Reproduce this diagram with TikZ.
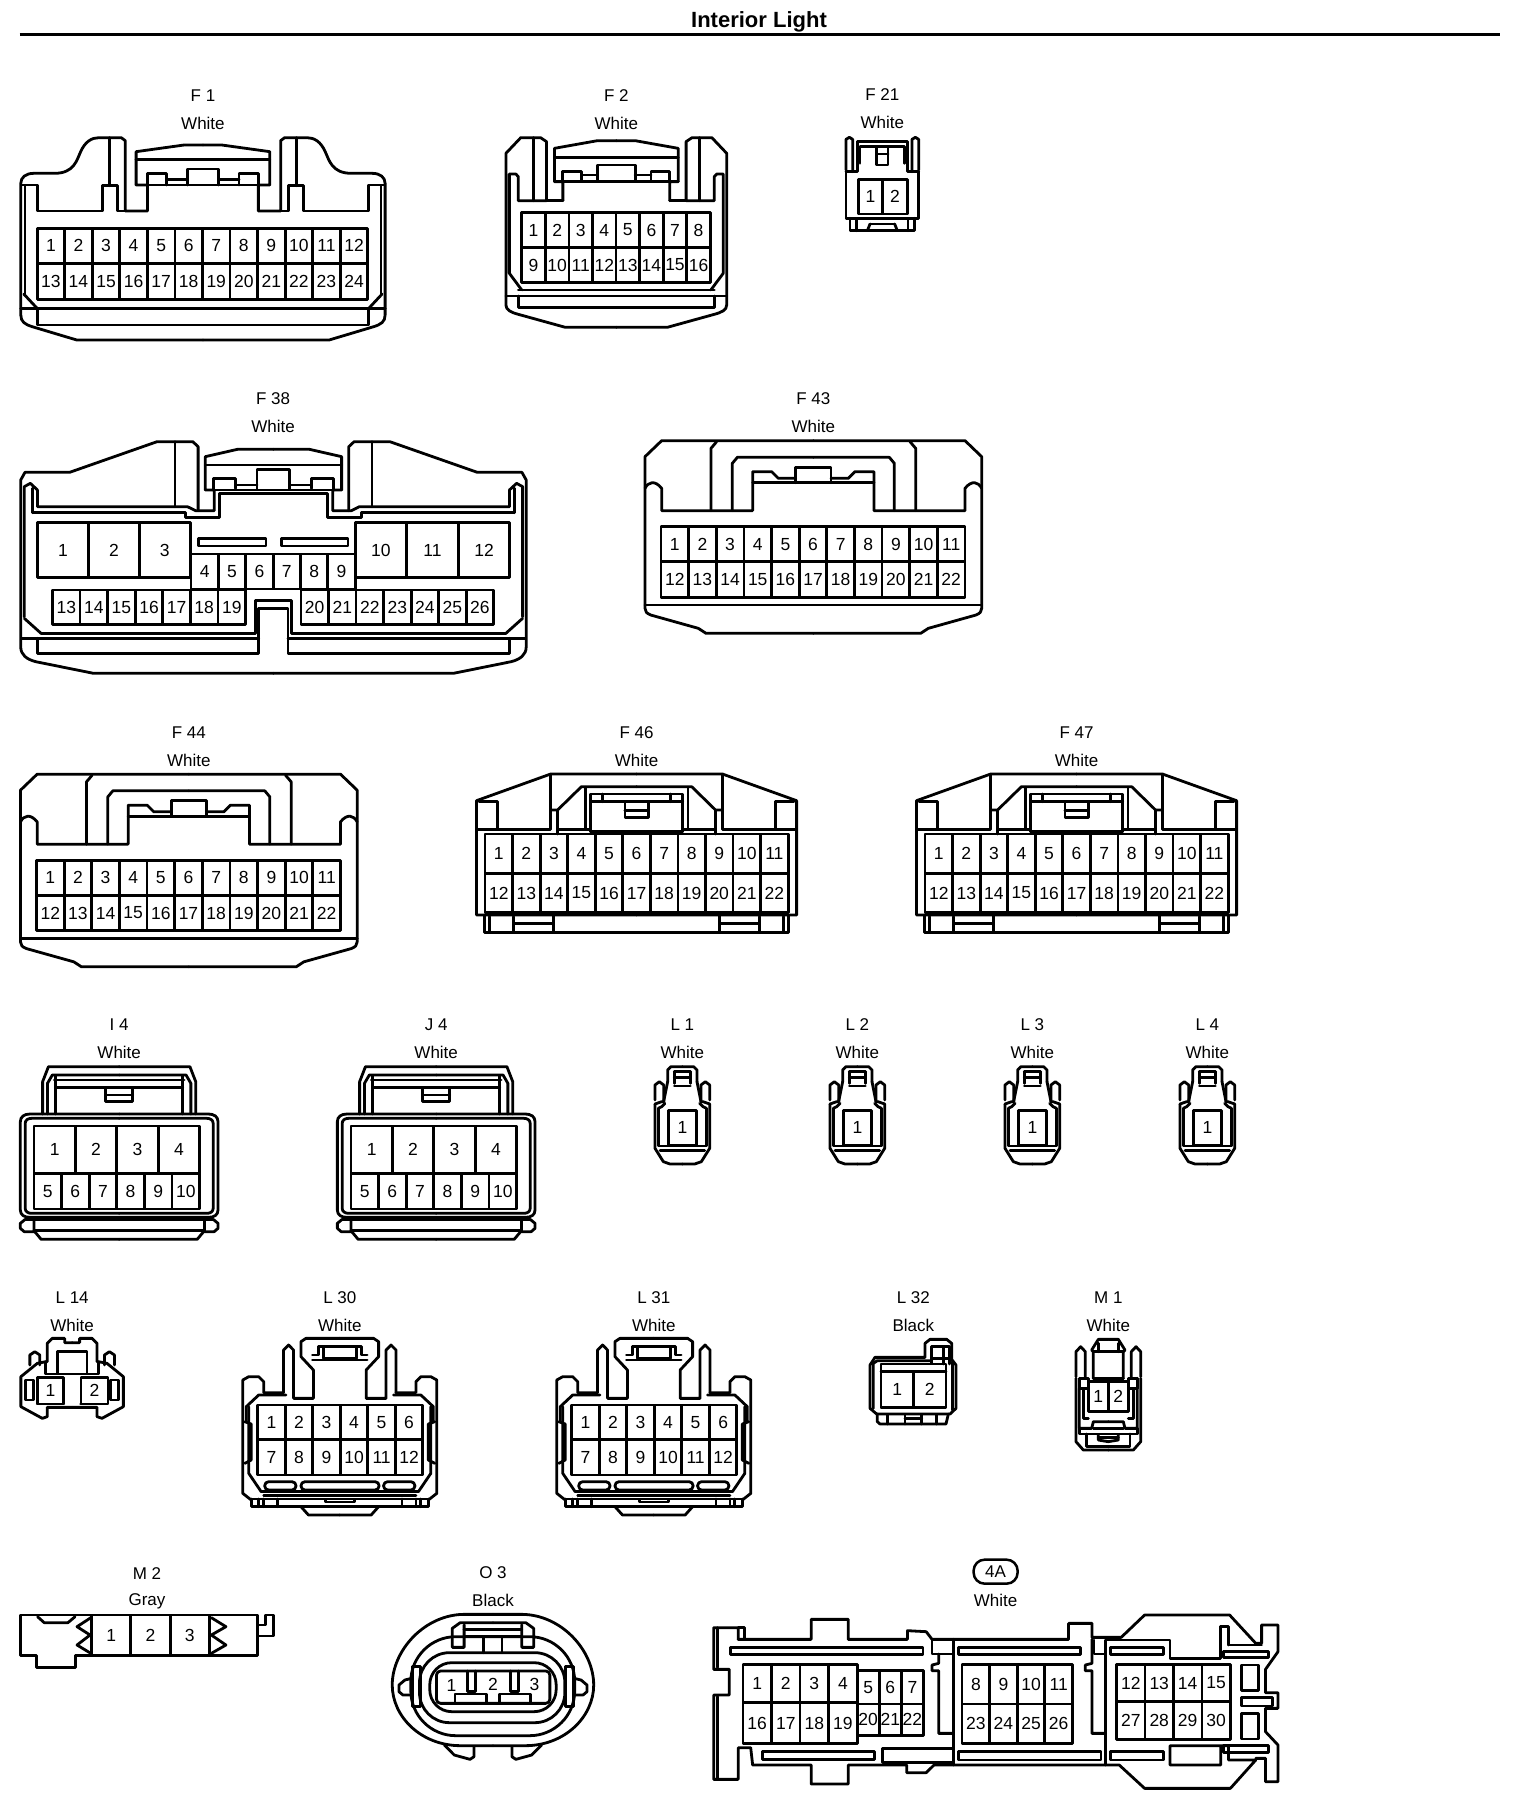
\documentclass[tikz,border=0pt]{standalone}
\usepackage{fontspec}
\setmainfont{Liberation Sans}
\tikzset{
  pintext/.style={font=\fontsize{17.5}{18}\selectfont,inner sep=0pt},
  lbl/.style={font=\fontsize{17}{17}\selectfont,inner sep=0pt},
  fine/.style={line width=1.7pt},
  F1view/.style={xscale=.495,yscale=1/3},
  fullview/.style={xscale=1/3,yscale=1/3}
}
\newcommand{\pinrow}[7]{%
  \pgfmathsetmacro\cellw{(#3-#2)/#4}
  \foreach \i in {1,...,#4}{
    \pgfmathsetmacro\xa{#2+(\i-1)*\cellw}
    \pgfmathsetmacro\xb{#2+\i*\cellw}
    \pgfmathtruncatemacro\pn{#7+\i-1}
    \draw (\xa,#5) rectangle (\xb,#6);
    \node[pintext] (#1p\pn) at ({(\xa+\xb)/2},{(#5+#6)/2}) {\pn};
  }}
\newcommand{\twin}[2]{#2\begin{scope}[xshift=#1,xscale=-1]#2\end{scope}}
\newcommand{\labels}[5]{%
  \node[lbl] (#1name) at (#2,#3) {#4};
  \node[lbl] (#1col) at (#2,#3+83) {#5};}
\newcommand{\connFff}[2]{%
  \twin{1100}{
    \draw (550,640)--(228,640)--(205,625)--(62,585) .. controls (50,580) and (45,575) .. (45,565)--(45,110)--(95,62)--(550,62);
    \draw (45,205) .. controls (55,185) and (75,180) .. (95,205)--(95,272)--(368,272)--(368,155)--(425,155)--(445,175)--(497,175);
    \draw (243,272)--(243,85)--(260,65);
    \draw (307,272)--(307,130)--(322,112)--(550,112);
    \draw (368,188)--(550,188);
    \draw (497,188)--(497,142)--(550,142);
    \draw (45,555)--(550,555);
  }
  \pinrow{#1}{93}{1005}{11}{320}{425}{1}
  \pinrow{#1}{93}{1005}{11}{425}{532}{12}
  \labels{#1}{550}{-63}{#2}{White}}
\newcommand{\connFfs}[2]{%
  \twin{704}{
    \draw (352,555)--(50,555)--(50,212)--(190,132)--(352,132);
    \draw (52,298)--(190,298)--(190,136);
    \draw (190,240)--(203,240)--(248,170)--(352,170);
    \draw (203,240)--(203,312);
    \draw (203,298)--(265,298);
    \draw (265,305)--(265,192)--(352,192);
    \draw (255,172)--(255,295);
    \draw (265,215)--(352,215);
    \draw (288,192)--(288,215);
    \draw (330,220)--(330,262)--(352,262);
    \draw (330,241)--(352,241);
    \draw (265,305)--(352,305);
    \draw (55,215)--(90,215)--(90,298);
    \draw (65,555)--(65,607)--(352,607);
    \draw (75,560)--(75,607);
    \draw (120,560)--(120,607);
    \draw (120,580)--(195,580);
    \draw (195,555)--(195,607);
  }
  \pinrow{#1}{66}{638}{11}{312}{430}{1}
  \pinrow{#1}{66}{638}{11}{430}{548}{12}
  \labels{#1}{352}{7}{#2}{White}}
\newcommand{\connI}[2]{%
  \twin{492}{
    \draw (88,282)--(88,185)--(100,140)--(246,140);
    \draw (98,282)--(98,190)--(108,165)--(246,165);
    \draw (115,282)--(115,168);
    \draw (112,180)--(246,180);
    \draw (115,203)--(246,203);
    \draw (218,205)--(218,245)--(246,245);
    \draw (218,225)--(246,225);
    \draw (246,282)--(62,282) .. controls (50,282) and (42,290) .. (42,305)--(42,570) .. controls (42,585) and (50,592) .. (62,592)--(246,592);
    \draw (246,295)--(65,295) .. controls (58,295) and (52,300) .. (52,310)--(52,565) .. controls (52,575) and (58,580) .. (65,580)--(246,580);
    \draw (52,598)--(42,610)--(42,625)--(50,635)--(70,635);
    \draw (52,598)--(246,598);
    \draw (70,600)--(70,632)--(85,658)--(246,658);
    \draw (70,632)--(246,632);
  }
  \pinrow{#1}{70}{412}{4}{318}{460}{1}
  \pinrow{#1}{70}{412}{6}{460}{567}{5}
  \labels{#1}{246}{14}{#2}{White}}
\newcommand{\connL}[2]{%
  \twin{134}{
    \draw (23,5)--(23,-30)--(33,-40)--(67,-40);
    \draw (43,-25)--(67,-25);
    \draw (43,-25)--(43,10);
    \draw (43,-8)--(67,-8);
    \draw (43,18)--(67,18);
    \draw (-15,60)--(-15,15)--(-2,5)--(11,15)--(11,65);
    \draw (11,65)--(23,5);
    \draw (-15,72)--(-15,205)--(10,245)--(30,252)--(67,252);
    \draw (-15,72)--(5,65)--(11,65);
    \draw (-5,85)--(-5,198)--(67,198);
    \draw (-5,85)--(5,80)--(15,70);
    \draw (0,212)--(67,212);
  }
  \pinrow{#1}{25}{110}{1}{92}{195}{1}
  \labels{#1}{67}{-166}{#2}{White}}
\newcommand{\connLt}[2]{%
  \twin{1366}{
    \draw (683,115)--(615,115)--(605,125)--(605,170)--(630,210)--(630,295)--(590,295)--(590,150)--(580,135)--(570,150)--(570,278);
    \draw (628,180)--(683,180);
    \draw (628,165)--(640,165)--(640,140)--(683,140);
    \draw (650,145)--(650,175)--(683,175);
    \draw (570,278)--(530,278)--(530,245)--(520,230)--(500,230)--(488,240)--(488,580)--(505,600);
    \draw (575,285)--(520,285)--(495,320)--(495,365);
    \draw (500,320)--(500,520)--(525,575);
    \draw (492,365)--(505,372)--(505,480)--(492,490);
    \draw[rounded corners=4pt] (532,545) rectangle (595,570);
    \draw (525,575)--(683,575);
    \draw (530,587)--(683,587);
    \draw (505,597)--(683,597);
    \draw (505,597)--(505,620)--(683,620);
    \draw (605,620)--(620,645)--(683,645);
    \draw (520,597)--(520,620);
    \draw (530,597)--(530,620);
    \draw (558,597)--(558,620);
  }
  \draw[rounded corners=4pt] (605,545) rectangle (762,570);
  \draw (655,597) rectangle (712,606);
  \pinrow{#1}{518}{850}{6}{315}{418}{1}
  \pinrow{#1}{518}{850}{6}{418}{525}{7}
  \labels{#1}{683}{-8}{#2}{White}}
\begin{document}
\begin{tikzpicture}[x=1pt,y=-1pt,line width=2.8pt,line join=round,line cap=round]
  \useasboundingbox (0,0) rectangle (1536,1804);
  \node[font=\bfseries\fontsize{22}{22}\selectfont,inner sep=0pt] (title) at (759,21.5) {Interior Light};
  \coordinate (ruleA) at (19.5,34.5);
  \coordinate (ruleB) at (1500,34.5);
  \draw[line width=3.5pt,line cap=butt] (ruleA) -- (ruleB);

  \begin{scope}[shift={(0,70)},F1view]
    \twin{820}{
      \draw (410,810)--(155,810)--(65,770) .. controls (50,763) and (42,755) .. (42,735)--(42,340) .. controls (42,322) and (52,310) .. (68,310)--(110,310) .. controls (150,310) and (155,270) .. (163,245) .. controls (172,215) and (185,203) .. (200,203)--(245,203)--(253,212)--(253,423)--(298,423)--(298,345)--(275,345)--(275,245)--(372,225)--(410,225);
      \draw (275,268)--(410,268);
      \draw (44,345)--(75,345)--(75,423)--(207,423)--(207,347)--(237,347)--(237,423)--(253,423);
      \draw (221,203)--(221,347);
      \draw (298,345)--(298,310)--(337,310)--(337,345);
      \draw (378,345)--(378,297)--(410,297);
      \draw (337,328)--(378,328);
      \draw (275,345)--(410,345);
      \draw (42,715)--(410,715);
      \draw (75,715)--(75,765)--(410,765);
      \draw (48,672)--(75,715);
      \draw[fine] (50,345)--(50,675);
    }
    \pinrow{f1}{75}{743}{12}{475}{580}{1}
    \pinrow{f1}{75}{743}{12}{580}{688}{13}
    \labels{f1}{410}{77}{F 1}{White}
  \end{scope}
  \begin{scope}[shift={(3.5,70)},F1view]
    \twin{2476}{
      \draw (1238,772)--(1135,772)--(1040,733) .. controls (1025,727) and (1015,720) .. (1015,705)--(1015,250)--(1045,203)--(1085,203)--(1097,215)--(1097,392)--(1040,392)--(1040,320)--(1035,312)--(1022,312)--(1022,610)--(1047,660);
      \draw (1130,392)--(1097,392);
      \draw (1130,392)--(1130,335)--(1113,335)--(1113,235)--(1200,212)--(1238,212);
      \draw (1070,203)--(1070,392);
      \draw (1113,262)--(1238,262);
      \draw (1130,335)--(1130,305)--(1168,305)--(1168,332);
      \draw (1200,332)--(1200,285)--(1238,285);
      \draw (1168,315)--(1200,315);
      \draw (1113,335)--(1238,335);
      \draw (1040,660)--(1238,660);
      \draw (1015,678)--(1238,678);
      \draw (1040,678)--(1040,712)--(1238,712);
    }
    \pinrow{f2}{1047}{1428}{8}{428}{532}{1}
    \pinrow{f2}{1047}{1428}{8}{532}{638}{9}
    \labels{f2}{1238}{77}{F 2}{White}
  \end{scope}

  \begin{scope}[shift={(830,120)},fullview]
    \twin{314}{
      \draw (48,150)--(48,58)--(58,52)--(68,58)--(68,155);
      \draw (48,155)--(82,155)--(82,65)--(157,65);
      \draw (90,130)--(90,80)--(157,80);
      \draw (140,80)--(140,135)--(157,135);
      \draw (140,102)--(157,102);
      \draw (48,155)--(48,295)--(157,295);
      \draw (60,295)--(60,332)--(157,332);
      \draw (80,300)--(80,332);
      \draw (120,312)--(157,312);
      \draw (120,312)--(112,332);
    }
    \pinrow{f21}{85}{232}{2}{178}{282}{1}
    \labels{f21}{157}{-76}{F 21}{White}
  \end{scope}

  \begin{scope}[shift={(0,390)},xscale=.357,yscale=1/3]
    \twin{1532}{
      \draw (766,850)--(262,850)--(100,815) .. controls (75,808) and (58,795) .. (58,770)--(58,270)--(70,247)--(195,247)--(440,155)--(540,155)--(555,170)--(555,362);
      \draw (105,300)--(105,350)--(525,350)--(548,362)--(600,362)--(600,300)--(575,300)--(575,200)--(665,178)--(766,178);
      \draw (575,225)--(766,225);
      \draw (575,300)--(766,300);
      \draw (598,298)--(598,265)--(660,265)--(660,295);
      \draw (720,298)--(720,238)--(766,238);
      \draw (660,285)--(720,285);
      \draw (92,368)--(520,368)--(520,382)--(615,382)--(615,310)--(766,310);
      \draw (68,680)--(68,290)--(85,280)--(105,300);
      \draw (90,295)--(90,368);
      \draw (490,155)--(490,350);
      \draw (68,685)--(115,730);
      \draw (115,730)--(715,730)--(715,632)--(766,632);
      \draw (60,745)--(725,745);
      \draw (105,745)--(105,790)--(725,790)--(725,655)--(766,655);
    }
    \pinrow{f38}{105}{533}{3}{398}{562}{1}
    \pinrow{f38}{535}{995}{6}{492}{597}{4}
    \pinrow{f38}{995}{1428}{3}{398}{562}{10}
    \pinrow{f38}{147}{688}{7}{600}{703}{13}
    \pinrow{f38}{843}{1383}{7}{600}{703}{20}
    \draw (555,445) rectangle (745,468);
    \draw (788,445) rectangle (975,468);
    \labels{f38}{765}{25}{F 38}{White}
  \end{scope}

  \begin{scope}[shift={(630,420)},fullview]
    \connFff{f43}{F 43}
  \end{scope}
  \begin{scope}[shift={(5.5,753.5)},fullview]
    \connFff{f44}{F 44}
  \end{scope}

  \begin{scope}[shift={(450,730)},xscale=.53,yscale=1/3]
    \connFfs{f46}{F 46}
  \end{scope}
  \begin{scope}[shift={(890,730)},xscale=.53,yscale=1/3]
    \connFfs{f47}{F 47}
  \end{scope}

  \begin{scope}[shift={(0,1020)},xscale=.4845,yscale=1/3]
    \connI{i4}{I 4}
  \end{scope}
  \begin{scope}[shift={(317,1020)},xscale=.4845,yscale=1/3]
    \connI{j4}{J 4}
  \end{scope}

  \begin{scope}[shift={(660,1080)},fullview]
    \connL{la}{L 1}
  \end{scope}
  \begin{scope}[shift={(835,1080)},fullview]
    \connL{lb}{L 2}
  \end{scope}
  \begin{scope}[shift={(1010,1080)},fullview]
    \connL{lc}{L 3}
  \end{scope}
  \begin{scope}[shift={(1185,1080)},fullview]
    \connL{ld}{L 4}
  \end{scope}

  \begin{scope}[shift={(0,1300)},xscale=.4975,yscale=1/3]
    \twin{290}{
      \draw (95,185)--(95,130)--(105,115)--(130,115)--(130,128)--(145,128);
      \draw (115,218)--(115,155)--(145,155);
      \draw (92,185)--(92,222)--(145,222);
      \draw (60,195)--(60,165)--(70,155)--(80,165)--(80,195);
      \draw (92,185)--(75,190)--(42,230)--(42,320)--(85,355)--(95,350)--(95,322)--(145,322);
      \draw (52,240)--(68,240)--(68,300)--(52,300)--cycle;
      \draw (75,312)--(128,312);
    }
    \pinrow{lfourteen}{75}{128}{1}{232}{312}{1}
    \pinrow{lfourteen}{163}{217}{1}{232}{312}{2}
    \labels{lfourteen}{145}{-8}{L 14}{White}
  \end{scope}

  \begin{scope}[shift={(0,1300)},xscale=.4975,yscale=1/3]
    \connLt{lthirty}{L 30}
  \end{scope}
  \begin{scope}[shift={(314,1300)},xscale=.4975,yscale=1/3]
    \connLt{lthirtyone}{L 31}
  \end{scope}

  \begin{scope}[shift={(820,1300)},fullview]
    \draw (150,195)--(165,172)--(315,172)--(315,130)--(330,118)--(380,118)--(395,130)--(395,178)--(408,195)--(408,325)--(390,342)--(170,342)--(150,325)--cycle;
    \draw (160,325)--(160,190)--(172,182)--(335,182);
    \draw (398,185)--(398,330);
    \draw (183,322)--(183,192)--(378,192)--(378,215);
    \draw (183,215)--(378,215);
    \draw (335,140)--(388,140)--(388,192);
    \draw (335,140)--(335,190);
    \draw (335,175)--(388,175);
    \draw (370,145)--(370,192);
    \draw (172,342)--(172,365)--(180,372)--(378,372)--(385,342);
    \draw (202,345)--(202,372);
    \draw (255,345)--(255,372);
    \draw (305,345)--(305,372);
    \draw (350,345)--(350,372);
    \draw (255,355)--(305,355);
    \pinrow{lthirtytwo}{183}{378}{2}{215}{322}{1}
    \labels{lthirtytwo}{280}{-8}{L 32}{Black}
    \twin{1730}{
      \draw (768,230)--(768,155)--(782,140)--(796,155)--(796,230);
      \draw (820,235)--(820,155)--(815,150)--(835,118)--(865,118);
      \draw (835,130)--(835,155);
      \draw (820,155)--(865,155);
      \draw (820,235)--(865,235);
      \draw (768,235)--(768,425)--(790,450)--(865,450);
      \draw (778,235)--(805,235)--(805,265)--(778,265)--(778,235);
      \draw (778,265)--(778,385)--(815,385)--(820,365)--(865,365);
      \draw (790,270)--(790,355)--(805,355);
      \draw (820,385)--(865,385);
      \draw (778,385)--(778,402)--(865,402);
      \draw (800,402)--(800,440)--(865,440);
      \draw (835,405)--(835,420)--(865,425);
      \draw (835,412)--(865,412);
    }
    \pinrow{mone}{805}{925}{2}{245}{335}{1}
    \labels{mone}{865}{-8}{M 1}{White}
  \end{scope}

  \begin{scope}[shift={(0,1570)},xscale=.395,yscale=1/3]
    \draw (52,135)--(652,135)--(652,257)--(192,257)--(192,292)--(92,292)--(92,257)--(52,257)--cycle;
    \draw (95,140)--(112,158)--(172,158)--(190,140);
    \draw (230,143)--(195,170)--(228,195)--(195,225)--(230,250);
    \draw (535,143)--(572,170)--(535,195)--(572,225)--(535,250);
    \draw (652,165)--(672,165)--(672,135)--(692,135)--(692,198)--(652,198);
    \pinrow{mtwo}{232}{530}{3}{135}{257}{1}
    \labels{mtwo}{372}{11}{M 2}{Gray}
    \draw[rounded corners=45pt] (1040,200) rectangle (1455,497);
    \draw[rounded corners=30pt] (1062,248) rectangle (1430,458);
    \draw[rounded corners=22pt] (1088,278) rectangle (1408,425);
    \draw[rounded corners=4pt] (1105,303) rectangle (1392,400);
    \twin{2496}{
      \draw (1248,133)--(1176,133) .. controls (1076,133) and (993,240) .. (993,345) .. controls (993,440) and (1066,527) .. (1166,527)--(1248,527);
      \draw (1045,410)--(1045,290)--(1065,290)--(1065,410)--cycle;
      \draw (1042,325)--(1025,330)--(1010,345)--(1010,365)--(1020,375)--(1042,375);
      \draw (1248,158)--(1165,158)--(1145,175)--(1145,232)--(1175,232)--(1175,165);
      \draw (1175,178)--(1248,178);
      \draw (1175,198)--(1248,198);
      \draw (1225,205)--(1225,248);
      \draw (1183,303)--(1183,365)--(1203,365)--(1203,303);
      \draw (1152,400)--(1152,372)--(1232,372)--(1232,400);
      \draw (1125,525)--(1150,555)--(1190,568)--(1200,560)--(1200,530);
    }
    \node[pintext] (othree1) at (1143,345) {1};
    \node[pintext] (othree2) at (1248,343) {2};
    \node[pintext] (othree3) at (1353,343) {3};
    \labels{othree}{1248}{7}{O 3}{Black}
  \end{scope}

  \begin{scope}[shift={(700,1580)},xscale=.39,yscale=1/3]
    \draw (98,178)--(98,143)--(35,143)--(35,268)--(75,268)--(75,345)--(35,345)--(35,598)--(98,598)--(98,503)--(130,503)--(135,555)--(285,555)--(285,612)--(380,612)--(380,555)--(530,555)--(530,578)--(580,578)--(600,555)--(1075,555)--(1140,625)--(1360,625)--(1425,540)--(1355,540)--(1355,497)--(1335,497)--(1335,555)--(1205,555)--(1205,497)--(1335,497);
    \draw (98,178)--(285,178)--(285,118)--(380,118)--(380,178)--(532,178)--(532,152)--(580,155)--(595,178)--(945,178)--(945,130)--(1005,130)--(1005,172)--(1080,172)--(1140,105)--(1358,105)--(1425,190)--(1440,190)--(1440,135)--(1482,135)--(1482,215)--(1450,268)--(1450,338)--(1482,338)--(1482,385)--(1450,385)--(1450,455)--(1482,495)--(1482,605)--(1450,605)--(1450,535)--(1425,535);
    \draw (45,143)--(45,262);
    \draw (45,350)--(45,598);
    \draw (98,143)--(115,143)--(115,178);
    \draw (1355,195)--(1440,195);
    \draw (1355,195)--(1355,140)--(1335,140)--(1335,235)--(1205,235)--(1205,180)--(1040,180)--(1040,555);
    \draw (650,178)--(650,555);
    \draw (595,178)--(595,222)--(650,222);
    \draw (612,222)--(612,250)--(595,255)--(595,272)--(612,272)--(612,460)--(650,460);
    \draw (1005,178)--(1005,250)--(988,255)--(988,272)--(1005,272)--(1005,460)--(1040,460);
    \draw (1010,180)--(1010,222)--(1035,222);
    \draw (78,203) rectangle (572,224);
    \draw (160,515) rectangle (447,538);
    \draw (662,203) rectangle (975,224);
    \draw (662,515) rectangle (1028,540);
    \draw (1053,203) rectangle (1188,224);
    \draw (1053,515) rectangle (1188,540);
    \draw (1342,215) rectangle (1458,232);
    \draw (1342,497) rectangle (1458,517);
    \draw (1388,255) rectangle (1432,332);
    \draw (1388,352) rectangle (1468,378);
    \draw (1388,400) rectangle (1432,477);
    \draw (650,505)--(467,505)--(467,548)--(650,548);
    \pinrow{fa}{110}{403}{4}{253}{368}{1}
    \pinrow{fa}{403}{573}{3}{272}{372}{5}
    \pinrow{fa}{672}{955}{4}{253}{372}{8}
    \pinrow{fa}{1068}{1360}{4}{253}{365}{12}
    \pinrow{fa}{110}{403}{4}{368}{490}{16}
    \pinrow{fa}{403}{573}{3}{372}{467}{20}
    \pinrow{fa}{672}{955}{4}{372}{490}{23}
    \pinrow{fa}{1068}{1360}{4}{365}{478}{27}
    \node[pintext,draw,rounded corners=11pt,line width=2.5pt,minimum width=44pt,minimum height=24pt,font=\fontsize{17}{17}\selectfont] (faname) at (758,-25) {4A};
    \node[lbl] (facol) at (758,60) {White};
  \end{scope}
\end{tikzpicture}
\end{document}
